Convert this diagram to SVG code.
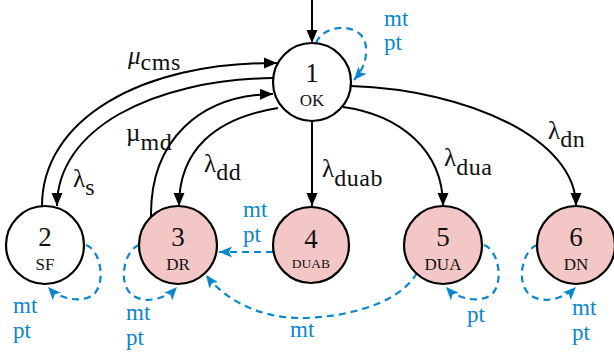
<svg xmlns="http://www.w3.org/2000/svg" width="614" height="356" viewBox="0 0 614 356">
  <style>
    .node { stroke: #000; stroke-width: 2.2; }
    .ok { fill: #fff; }
    .fail { fill: #f2c7c5; }
    .num { font-family: "Liberation Serif", serif; font-size: 27px; fill: #111; text-anchor: middle; }
    .tag { font-family: "Liberation Serif", serif; font-size: 17px; fill: #111; text-anchor: middle; }
    .tag.sm { font-size: 13.5px; }
    .edge { fill: none; stroke: #000; stroke-width: 2; }
    .maint { fill: none; stroke: #0a86cc; stroke-width: 2.2; stroke-dasharray: 7 5; }
    .rate { font-family: "Liberation Serif", serif; font-size: 25px; fill: #111; }
    .sub { font-size: 24px; letter-spacing: 0.6px; }
    .act { font-family: "Liberation Serif", serif; font-size: 23px; fill: #0a86cc; }
  </style>
  <defs>
    <marker id="arr" markerUnits="userSpaceOnUse" markerWidth="14" markerHeight="12" refX="13" refY="6" orient="auto">
      <path d="M0,0.5 L13,6 L0,11.5 z" fill="#000"/>
    </marker>
    <marker id="arrb" markerUnits="userSpaceOnUse" markerWidth="14" markerHeight="12" refX="13" refY="6" orient="auto">
      <path d="M0,0.5 L13,6 L0,11.5 L3,6 z" fill="#0a86cc"/>
    </marker>
  </defs>

  <!-- transitions -->
  <g id="connectors">
    <path class="edge" d="M312,0 L312,43" marker-end="url(#arr)"/>
    <path class="edge" d="M42,206 C42,120 140,62 277,63" marker-end="url(#arr)"/>
    <path class="edge" d="M273,78 C150,80 57,130 57,206" marker-end="url(#arr)"/>
    <path class="edge" d="M151,217 C150,140 200,95 273,94" marker-end="url(#arr)"/>
    <path class="edge" d="M278,108 C215,118 179,150 179,206" marker-end="url(#arr)"/>
    <path class="edge" d="M312,121 L312,206" marker-end="url(#arr)"/>
    <path class="edge" d="M343,107 C400,115 443,150 443,206" marker-end="url(#arr)"/>
    <path class="edge" d="M351,86 C470,90 576,140 576,206" marker-end="url(#arr)"/>

    <!-- maintenance / test transitions -->
    <path class="maint" d="M316,43 C325,22 365,22 366,48 C367,62 361,72 354,80" marker-end="url(#arrb)"/>
    <path class="maint" d="M86,245 C100,250 106,280 95,293 C85,304 60,300 48,287" marker-end="url(#arrb)"/>
    <path class="maint" d="M139,245 C125,250 118,280 130,293 C142,305 165,300 177,287" marker-end="url(#arrb)"/>
    <path class="maint" d="M273,252 L219,252" marker-end="url(#arrb)"/>
    <path class="maint" d="M417,273 C395,310 330,318 300,318 C260,318 225,300 206,275" marker-end="url(#arrb)"/>
    <path class="maint" d="M484,245 C498,250 504,280 493,293 C483,304 458,300 446,287" marker-end="url(#arrb)"/>
    <path class="maint" d="M537,245 C523,250 516,280 528,293 C540,305 563,300 576,287" marker-end="url(#arrb)"/>
  </g>

  <!-- rate labels -->
  <g id="rates">
    <text class="rate" x="128" y="64"><tspan font-style="italic">μ</tspan><tspan class="sub" y="70">cms</tspan></text>
    <text class="rate" x="73" y="187">λ<tspan class="sub" y="195">s</tspan></text>
    <text class="rate" x="126" y="141">µ<tspan class="sub" y="150">md</tspan></text>
    <text class="rate" x="204" y="172">λ<tspan class="sub" y="180">dd</tspan></text>
    <text class="rate" x="322" y="177">λ<tspan class="sub" y="186">duab</tspan></text>
    <text class="rate" x="444" y="166">λ<tspan class="sub" y="175">dua</tspan></text>
    <text class="rate" x="548" y="139">λ<tspan class="sub" y="147">dn</tspan></text>
  </g>

  <!-- maintenance labels -->
  <g id="actions">
    <text class="act" x="384" y="26">mt</text>
    <text class="act" x="384" y="50">pt</text>
    <text class="act" x="13" y="313">mt</text>
    <text class="act" x="13" y="338">pt</text>
    <text class="act" x="126" y="320">mt</text>
    <text class="act" x="126" y="345">pt</text>
    <text class="act" x="243" y="217">mt</text>
    <text class="act" x="243" y="242">pt</text>
    <text class="act" x="290" y="337">mt</text>
    <text class="act" x="467" y="322">pt</text>
    <text class="act" x="572" y="315">mt</text>
    <text class="act" x="572" y="340">pt</text>
  </g>

  <!-- states -->
  <g id="s1">
    <circle class="node ok" cx="312" cy="82" r="39"/>
    <text class="num" x="312" y="82">1</text>
    <text class="tag" x="312" y="106">OK</text>
  </g>
  <g id="s2">
    <circle class="node ok" cx="45" cy="245" r="39"/>
    <text class="num" x="45" y="246">2</text>
    <text class="tag" x="45" y="270">SF</text>
  </g>
  <g id="s3">
    <circle class="node fail" cx="178" cy="245" r="39"/>
    <text class="num" x="178" y="246">3</text>
    <text class="tag" x="178" y="270">DR</text>
  </g>
  <g id="s4">
    <circle class="node fail" cx="311" cy="245" r="38"/>
    <text class="num" x="311" y="248">4</text>
    <text class="tag sm" x="311" y="268">DUAB</text>
  </g>
  <g id="s5">
    <circle class="node fail" cx="443" cy="245" r="39"/>
    <text class="num" x="443" y="246">5</text>
    <text class="tag" x="443" y="270">DUA</text>
  </g>
  <g id="s6">
    <circle class="node fail" cx="576" cy="245" r="39"/>
    <text class="num" x="576" y="246">6</text>
    <text class="tag" x="576" y="270">DN</text>
  </g>
</svg>
